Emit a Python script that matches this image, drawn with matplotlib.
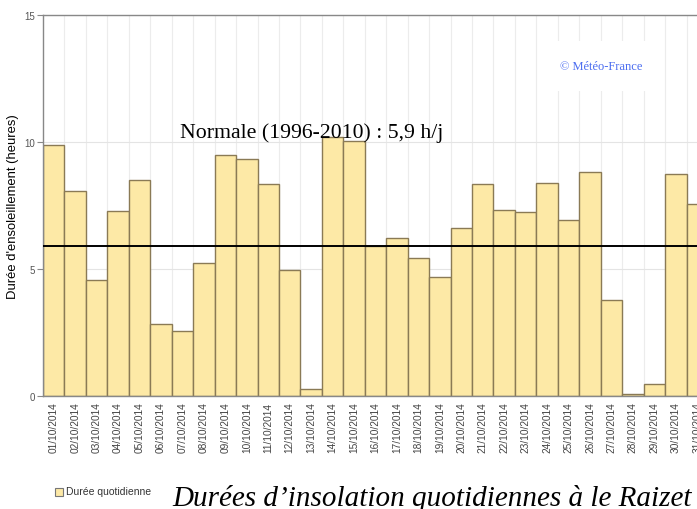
import matplotlib
matplotlib.use("Agg")
import matplotlib.pyplot as plt
import numpy as np

# daily sunshine duration, October 2014 (hours)
days = ["%02d/10/2014" % d for d in range(1, 32)]
hours = [9.88, 8.07, 4.57, 7.28, 8.5, 2.83, 2.56, 5.24, 9.49, 9.33,
         8.35, 4.96, 0.28, 10.2, 10.02, 5.9, 6.22, 5.43, 4.69, 6.61,
         8.35, 7.32, 7.24, 8.39, 6.93, 8.82, 3.78, 0.08, 0.47, 8.74, 7.56]
normale = 5.9
yticks = [0, 5, 10, 15]

bar_color = "#fde9a6"
edge_color = "#8a7a55"
sans = "Liberation Sans"
serif = "Liberation Serif"

fig = plt.figure(figsize=(6.97, 5.10), dpi=100)
# axes runs past the right edge, like the cropped original
ax = fig.add_axes([43 / 697, 1 - 397 / 510, 665 / 697, 381 / 510])

x = np.arange(len(days))
ax.bar(x, hours, width=1.0, color=bar_color, edgecolor=edge_color, linewidth=1.0, zorder=2)
ax.axhline(normale, color="black", linewidth=1.4, zorder=3)

ax.set_xlim(-0.5, len(days) - 0.5)
ax.set_ylim(0, 15)
ax.set_yticks(yticks)
ax.set_yticklabels([str(v) for v in yticks], fontsize=7, color="#555555", family=sans)
ax.set_xticks(x)
ax.set_xticklabels(days, rotation=90, fontsize=7.3, color="#444444", family=sans)
ax.set_xticks(x[:-1] + 0.5, minor=True)
ax.tick_params(axis="x", which="both", length=0, pad=4)
ax.tick_params(axis="y", length=4, color="#888888", width=0.8, pad=2)

ax.grid(axis="x", which="minor", color="#ececec", linewidth=0.8, zorder=0)
ax.grid(axis="y", which="major", color="#e4e4e4", linewidth=0.8, zorder=0)
ax.set_axisbelow(True)

for side in ["top", "left", "bottom"]:
    ax.spines[side].set_color("#888888")
    ax.spines[side].set_linewidth(1.0)
ax.spines["right"].set_visible(False)

ax.set_ylabel("Durée d'ensoleillement (heures)", fontsize=9.4, family=sans, labelpad=6)
ax.yaxis.set_label_coords(-0.036, 0.5)

ax.text(0.839, 0.866, "© Météo-France", transform=ax.transAxes, fontsize=9,
        color="#4a6cf0", family=serif, ha="center", va="center", zorder=4,
        bbox=dict(facecolor="white", edgecolor="none", boxstyle="square,pad=1.5"))

fig.text(180 / 697, 1 - 133 / 510, "Normale (1996-2010) : 5,9 h/j", fontsize=15.7,
         family=serif, ha="left", va="center", zorder=5)

# legend
fig.patches.append(plt.Rectangle((55 / 697, 1 - 497 / 510), 8 / 697, 8 / 510,
                                 transform=fig.transFigure, facecolor=bar_color,
                                 edgecolor="#777777", linewidth=0.8))
fig.text(66 / 697, 1 - 492 / 510, "Durée quotidienne", fontsize=7.5, color="#333333",
         family=sans, ha="left", va="center")

fig.text(172 / 697, 1 - 506 / 510, "Durées d’insolation quotidiennes à le Raizet",
         fontsize=21, style="italic", family=serif, ha="left", va="baseline")

fig.savefig("out.png", dpi=100)
